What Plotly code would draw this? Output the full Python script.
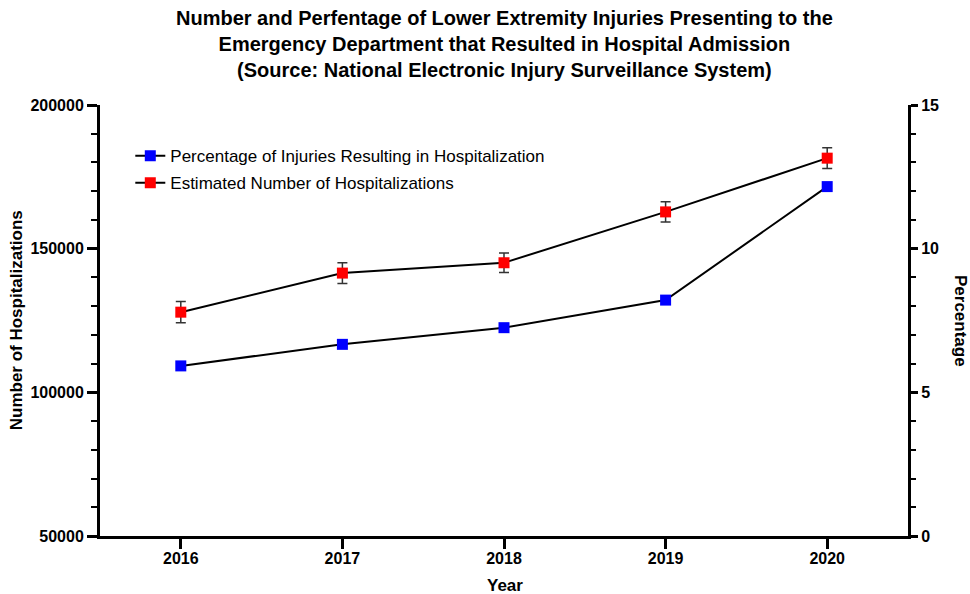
import plotly.graph_objects as go

years = [2016, 2017, 2018, 2019, 2020]
pct_hosp = [5.92, 6.67, 7.25, 8.21, 12.16]
num_hosp = [127900, 141500, 145100, 162800, 181500]
num_err = [3700, 3600, 3400, 3500, 3600]

left_ticks = [50000, 100000, 150000, 200000]
right_ticks = [0, 5, 10, 15]

font_family = "Liberation Sans, Arial, sans-serif"

fig = go.Figure()
fig.add_trace(go.Scatter(
    x=years, y=pct_hosp, name="Percentage of Injuries Resulting in Hospitalization",
    mode="lines+markers", yaxis="y2", legendgroup="a",
    line=dict(color="black", width=2),
    marker=dict(symbol="square", size=11, color="#0000FF"),
))
fig.add_trace(go.Scatter(
    x=years, y=num_hosp, name="Estimated Number of Hospitalizations",
    mode="lines+markers", legendgroup="b",
    line=dict(color="black", width=2),
    marker=dict(symbol="square", size=11, color="#FF0000"),
    error_y=dict(type="data", array=num_err, visible=True, color="#333333",
                 thickness=1.5, width=5),
))

fig.update_layout(
    width=970, height=594,
    margin=dict(l=100, r=62, t=105, b=58, autoexpand=False),
    paper_bgcolor="white", plot_bgcolor="white",
    font=dict(family=font_family, color="black"),
    showlegend=True,
    legend=dict(
        x=0.0375, y=0.923, xanchor="left", yanchor="top",
        font=dict(size=17), bgcolor="rgba(0,0,0,0)",
        traceorder="grouped", tracegroupgap=2,
    ),
    xaxis=dict(
        range=[2015.5, 2020.5], tickvals=years, ticktext=[str(y) for y in years],
        showline=True, linecolor="black", linewidth=3, mirror=False,
        ticks="outside", ticklen=10, tickwidth=2.5, tickcolor="black",
        ticklabelstandoff=-4, automargin=False,
        showgrid=False, zeroline=False,
        tickfont=dict(size=16, weight="bold"),
    ),
    yaxis=dict(
        range=[50000, 200000], tickvals=left_ticks, ticktext=[str(v) for v in left_ticks],
        showline=True, linecolor="black", linewidth=3, automargin=False,
        ticks="outside", ticklen=10, tickwidth=2.5, tickcolor="black",
        minor=dict(dtick=10000, ticklen=6, tickwidth=2, tickcolor="black", ticks="outside"),
        showgrid=False, zeroline=False,
        tickfont=dict(size=16, weight="bold"),
    ),
    yaxis2=dict(
        range=[0, 15], tickvals=right_ticks, ticktext=[str(v) for v in right_ticks],
        overlaying="y", side="right", automargin=False,
        showline=True, linecolor="black", linewidth=3,
        ticks="outside", ticklen=7, tickwidth=2.5, tickcolor="black",
        minor=dict(dtick=1, ticklen=5, tickwidth=2, tickcolor="black", ticks="outside"),
        showgrid=False, zeroline=False,
        tickfont=dict(size=16, weight="bold"),
    ),
    annotations=[
        dict(text="Number and Perfentage of Lower Extremity Injuries Presenting to the<br>"
                  "Emergency Department that Resulted in Hospital Admission<br>"
                  "(Source: National Electronic Injury Surveillance System)",
             xref="paper", yref="paper", x=0.501, y=1.233, xanchor="center", yanchor="top",
             showarrow=False, font=dict(size=20, weight="bold")),
        dict(text="Year", xref="paper", yref="paper",
             x=0.501, y=-0.114, xanchor="center", yanchor="middle",
             showarrow=False, font=dict(size=17, weight="bold")),
        dict(text="Number of Hospitalizations", xref="paper", yref="paper",
             x=-0.103, y=0.5, xanchor="center", yanchor="middle", textangle=-90,
             showarrow=False, font=dict(size=17, weight="bold")),
        dict(text="Percentage", xref="paper", yref="paper",
             x=1.065, y=0.5, xanchor="center", yanchor="middle", textangle=90,
             showarrow=False, font=dict(size=17, weight="bold")),
    ],
)

fig.write_html("out.html", post_script="document.body.style.margin='0px';",
               config={"displayModeBar": False})
